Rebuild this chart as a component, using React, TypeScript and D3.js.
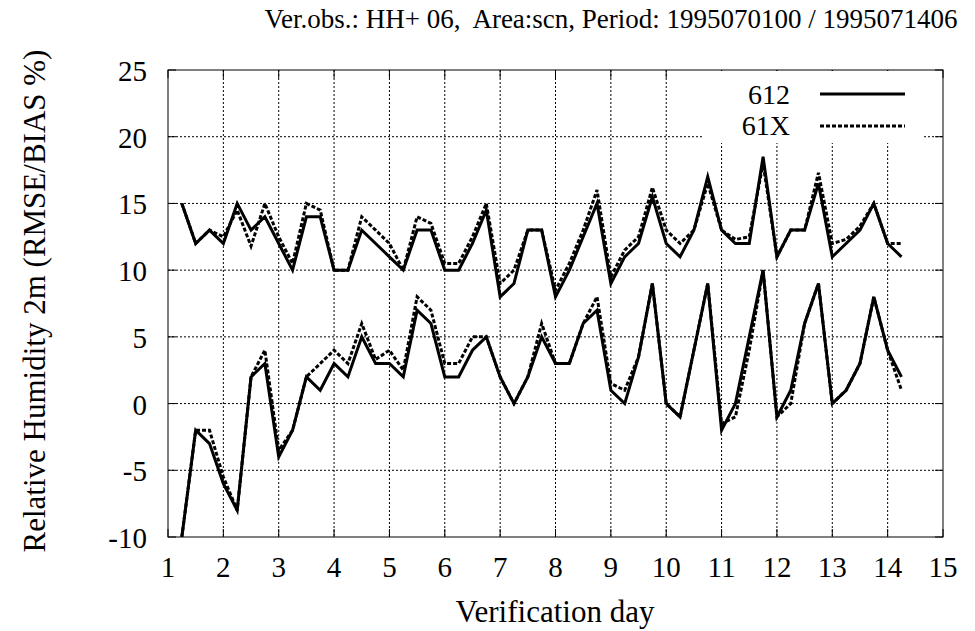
import React from "react";
import * as d3 from "d3";

const days = [1.25,1.5,1.75,2,2.25,2.5,2.75,3,3.25,3.5,3.75,4,4.25,4.5,4.75,5,5.25,5.5,5.75,6,6.25,6.5,6.75,7,7.25,7.5,7.75,8,8.25,8.5,8.75,9,9.25,9.5,9.75,10,10.25,10.5,10.75,11,11.25,11.5,11.75,12,12.25,12.5,12.75,13,13.25,13.5,13.75,14,14.25];

const rmse612 = [15,12,13,12,15,13,14,12,10,14,14,10,10,13,12,11,10,13,13,10,10,12,14.5,8,9,13,13,8,10,12.5,15,9,11,12,15.5,12,11,13,17,13,12,12,18.5,11,13,13,16.5,11,12,13,15,12,11];
const rmse61X = [15,12,13,12.5,14.5,11.8,15,12.5,10.5,15,14.5,10,10,14,13,12,10,14,13.5,10.5,10.5,12.5,15,9,10,13,13,8.5,10.5,13,16,9.5,11.5,12.5,16.2,13,12,13,16.5,13,12.3,12.5,18,11,13,13,17.3,12,12.3,13.3,15,12,12];
const bias612 = [-10,-2,-3,-6,-8,2,3,-4,-2,2,1,3,2,5,3,3,2,7,6,2,2,4,5,2,0,2,5,3,3,6,7,1,0,3.5,9,0,-1,4,9,-2,0,5,10,-1,1,6,9,0,1,3,8,4,2];
const bias61X = [-10,-2,-2,-5.5,-8,2,4,-3.5,-2,2,3,4,3,6,3.3,4,2.5,8,7,3,3,5,5,2,0,2,6,3,3,6,8,1.5,1,3.5,9,0,-1,4,9,-1.5,-1,4,10,-1,0,6,9,0,1,3,8,4,1];

const xTicks = [1,2,3,4,5,6,7,8,9,10,11,12,13,14,15];
const yTicks = [-10,-5,0,5,10,15,20,25];
const seriesNames = ["612", "61X"];

const title = "Ver.obs.: HH+ 06,  Area:scn, Period: 1995070100 / 1995071406";
const xLabel = "Verification day";
const yLabel = "Relative Humidity 2m (RMSE/BIAS %)";

const FONT = "Liberation Serif";

export default function App() {
  const W = 975, H = 631;
  const L = 168, R = 943, T = 70, B = 537;
  const x = d3.scaleLinear().domain([1, 15]).range([L, R]);
  const y = d3.scaleLinear().domain([-10, 25]).range([B, T]);
  const line = d3.line<number>().x((_, i) => x(days[i])).y((d) => y(d));
  const solid = { fill: "none", stroke: "#000", strokeWidth: 3 };
  const dashed = { fill: "none", stroke: "#000", strokeWidth: 3, strokeDasharray: "4,2" };
  const tick = 8;
  return (
    <svg width={W} height={H} style={{ position: "absolute", left: 0, top: 0, background: "#fff" }}>
      <defs>
        <clipPath id="plot"><rect x={L} y={T} width={R - L} height={B - T} /></clipPath>
      </defs>
      {xTicks.slice(1, -1).map((t) => (
        <line key={"gx" + t} x1={x(t)} x2={x(t)} y1={T} y2={B} stroke="#000" strokeWidth={1} strokeDasharray="2,2" />
      ))}
      {yTicks.slice(1, -1).map((t) => (
        <line key={"gy" + t} x1={L} x2={R} y1={y(t)} y2={y(t)} stroke="#000" strokeWidth={1} strokeDasharray="2,2" />
      ))}
      {xTicks.map((t) => (
        <g key={"tx" + t}>
          <line x1={x(t)} x2={x(t)} y1={B} y2={B - tick} stroke="#000" />
          <line x1={x(t)} x2={x(t)} y1={T} y2={T + tick} stroke="#000" />
          <text x={x(t)} y={577} textAnchor="middle" fontSize={29} fontFamily={FONT}>{String(t)}</text>
        </g>
      ))}
      {yTicks.map((t) => (
        <g key={"ty" + t}>
          <line x1={L} x2={L + tick} y1={y(t)} y2={y(t)} stroke="#000" />
          <line x1={R} x2={R - tick} y1={y(t)} y2={y(t)} stroke="#000" />
          <text x={147} y={y(t) + 11} textAnchor="end" fontSize={29} fontFamily={FONT}>{String(t)}</text>
        </g>
      ))}
      <rect x={703} y={T + 1} width={220} height={72} fill="#fff" />
      <g clipPath="url(#plot)">
        <path d={line(rmse61X) || ""} {...dashed} />
        <path d={line(bias61X) || ""} {...dashed} />
        <path d={line(rmse612) || ""} {...solid} />
        <path d={line(bias612) || ""} {...solid} />
      </g>
      <rect x={L} y={T} width={R - L} height={B - T} fill="none" stroke="#000" strokeWidth={1} />
      <text x={790} y={104} textAnchor="end" fontSize={28} fontFamily={FONT}>{seriesNames[0]}</text>
      <line x1={820} x2={905} y1={94} y2={94} {...solid} />
      <text x={790} y={135} textAnchor="end" fontSize={28} fontFamily={FONT}>{seriesNames[1]}</text>
      <line x1={820} x2={905} y1={126} y2={126} {...dashed} />
      <text x={611} y={28} textAnchor="middle" fontSize={27} fontFamily={FONT} style={{ whiteSpace: "pre" }}>{title}</text>
      <text x={555} y={622} textAnchor="middle" fontSize={31} fontFamily={FONT}>{xLabel}</text>
      <text transform="translate(45, 301) rotate(-90)" textAnchor="middle" fontSize={31} fontFamily={FONT}>{yLabel}</text>
    </svg>
  );
}
